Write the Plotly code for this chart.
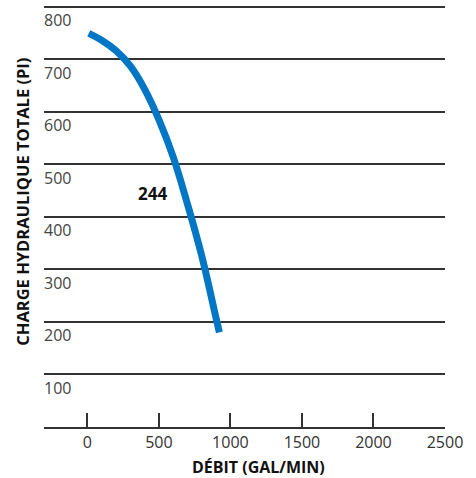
import plotly.graph_objects as go

flow = [10, 100, 200, 300, 400, 500, 600, 700, 800, 900, 923]
head = [749, 736, 716, 687, 643, 585, 514, 424, 325, 207, 180]
curve_name = "244"
label_pos = (457, 445)

x_ticks = [0, 500, 1000, 1500, 2000, 2500]
y_ticks = [100, 200, 300, 400, 500, 600, 700, 800]

x_title = "DÉBIT (GAL/MIN)"
y_title = "CHARGE HYDRAULIQUE TOTALE (PI)"

BLUE = "#0076C4"
GRID = "#333333"
FONT = "Open Sans"

fig = go.Figure()
fig.add_trace(go.Scatter(
    x=flow, y=head, mode="lines",
    line=dict(color=BLUE, width=7, shape="spline", smoothing=1.1),
    hoverinfo="skip", showlegend=False,
))

fig.add_annotation(x=label_pos[0], y=label_pos[1], text=f"<b>{curve_name}</b>",
                   showarrow=False, font=dict(family=FONT, size=17, color="#111111"))

fig.add_annotation(xref="paper", yref="paper", x=0.5355, y=-0.094, yanchor="middle",
                   text=f"<b>{x_title}</b>", showarrow=False,
                   font=dict(family=FONT, size=16, color="#111111"))
fig.add_annotation(xref="paper", yref="paper", x=-0.054, y=0.5346, xanchor="center",
                   text=f"<b>{y_title}</b>", textangle=-90, showarrow=False,
                   font=dict(family=FONT, size=16.5, color="#111111"))

fig.update_layout(
    width=476, height=478,
    margin=dict(l=44, r=30.5, t=4.9, b=50.7),
    paper_bgcolor="white", plot_bgcolor="white",
    font=dict(family=FONT, size=16, color="#333333"),
    xaxis=dict(
        range=[-303, 2500], tickvals=x_ticks, ticktext=[str(v) for v in x_ticks],
        showgrid=False, zeroline=False, showline=True, linecolor=GRID, linewidth=1.5,
        ticks="inside", ticklen=14, tickwidth=1.5, tickcolor=GRID,
    ),
    yaxis=dict(
        range=[0, 803], tickvals=y_ticks, ticktext=[str(v) for v in y_ticks],
        showgrid=True, gridcolor=GRID, gridwidth=1.5, zeroline=False, showline=False,
        ticks="", ticklabelposition="inside", ticklabelshift=14, ticklabelstandoff=-3,
    ),
)

fig.write_html("out.html", config={"displayModeBar": False},
               post_script="document.body.style.margin='0';")
